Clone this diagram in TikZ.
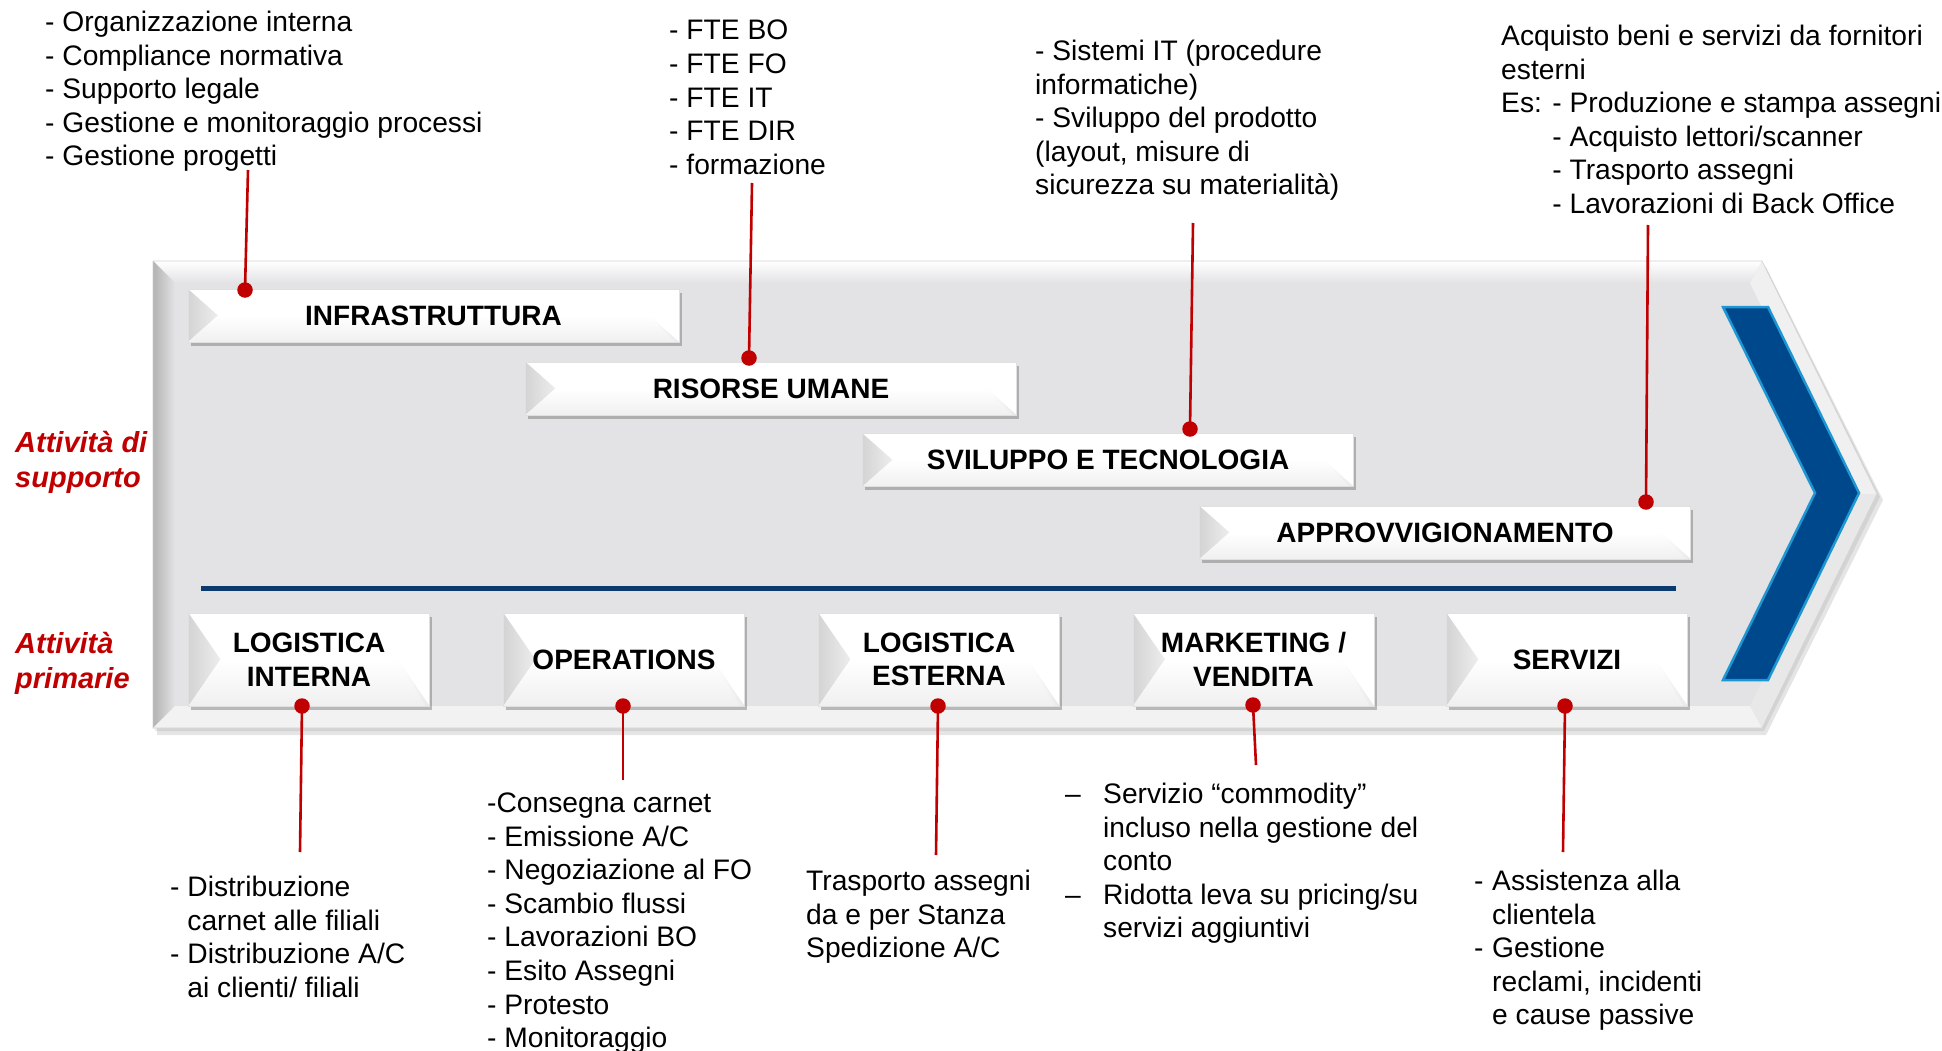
\documentclass[tikz,border=0pt]{standalone}
\usepackage{fontspec}
\setmainfont{Liberation Sans}
\usetikzlibrary{shadows,calc}
\definecolor{panel}{HTML}{E3E3E5}
\definecolor{rd}{HTML}{C00000}
\definecolor{navy}{HTML}{0B3A6F}
\definecolor{chev}{HTML}{00488C}
\definecolor{chevline}{HTML}{1E96D2}
\begin{document}
\begin{tikzpicture}[x=1pt,y=-1pt,
  bev/.style={path picture={
    \path (path picture bounding box.north west) coordinate (bnw)
          (path picture bounding box.south west) coordinate (bsw)
          (path picture bounding box.south east) coordinate (bse)
          (path picture bounding box.north east) coordinate (bne)
          ([xshift=#1]path picture bounding box.west) coordinate (bw)
          ([xshift=-#1]path picture bounding box.east) coordinate (be);
    \shade[left color=black!17, right color=black!7] (bnw) -- (bw) -- (bsw) -- cycle;
    \shade[top color=white, bottom color=black!6] (bsw) -- (bw) -- (be) -- (bse) -- cycle;
    \shade[left color=white, right color=black!9] (be) -- (bse) -- ([xshift=-4pt]bse) -- cycle;
  }},
  boxbase/.style={rectangle, inner sep=0, fill=white, draw=black!12, line width=0.6pt,
    drop shadow={shadow xshift=2.5pt, shadow yshift=-3.5pt, opacity=0.35, fill=black!70},
    font=\fontsize{28}{33.5}\selectfont\bfseries, align=center},
  supbox/.style={boxbase, minimum width=491pt, minimum height=53pt, bev=30pt},
  primbox/.style={boxbase, minimum width=241pt, minimum height=93pt, bev=32pt},
  reddot/.style={circle, fill=rd, inner sep=0, minimum size=15.5pt},
  redline/.style={draw=rd, line width=2.6pt},
  txt/.style={inner sep=0, anchor=base west, align=left, font=\fontsize{28.2}{33.6}\selectfont},
  lab/.style={inner sep=0, anchor=base west, align=left, text=rd, font=\fontsize{29}{35}\selectfont\bfseries\itshape}
]
\useasboundingbox (0,0) rectangle (1942,1051);

% ---- big beveled arrow panel ----
\fill[black, opacity=0.10] (157,267) -- (1766,267) -- (1883,500) -- (1766,735) -- (157,735) -- cycle;
\fill[black, opacity=0.08] (155,264) -- (1764,264) -- (1880,497) -- (1764,731) -- (155,731) -- cycle;
\fill[panel] (153,261) -- (1762,261) -- (1877,494) -- (1762,728) -- (153,728) -- cycle;
\shade[top color=white, bottom color=panel] (153,261) -- (1762,261) -- (1750,283) -- (175,283) -- cycle;
\shade[left color=black!30, right color=panel] (153,261) -- (175,283) -- (175,706) -- (153,728) -- cycle;
\fill[black!5] (153,728) -- (175,706) -- (1750,706) -- (1762,728) -- cycle;
\fill[black!6] (1762,261) -- (1877,494) -- (1853,494) -- (1750,283) -- cycle;
\fill[black!9] (1877,494) -- (1762,728) -- (1750,706) -- (1853,494) -- cycle;
\draw[black!18, line width=0.6pt] (153,261) -- (1762,261) -- (1877,494) -- (1762,728) -- (153,728) -- cycle;

% ---- separator line ----
\draw[navy, line width=5pt] (201,588) -- (1676,588);

% ---- blue chevron ----
\draw[chevline, line width=2.5pt, fill=chev, line join=miter]
  (1723,307) -- (1768,307) -- (1859,493) -- (1768,680) -- (1723,680) -- (1815,493) -- cycle;

% ---- support activity boxes ----
\node[supbox] (infra) at (433.5,315.5) {INFRASTRUTTURA};
\node[supbox] (risorse) at (771,388.5) {RISORSE UMANE};
\node[supbox] (svil) at (1108,460) {SVILUPPO E TECNOLOGIA};
\node[supbox] (appr) at (1445,532.5) {APPROVVIGIONAMENTO};

% ---- primary activity boxes ----
\node[primbox] (li) at (309,659.5) {LOGISTICA\\INTERNA};
\node[primbox] (op) at (624,659.5) {OPERATIONS};
\node[primbox] (le) at (939,659.5) {LOGISTICA\\ESTERNA};
\node[primbox] (mv) at (1253.5,659.5) {MARKETING /\\VENDITA};
\node[primbox] (se) at (1567,659.5) {SERVIZI};

% ---- side labels (anchor = baseline of last line) ----
\node[lab] (lsup) at (15,487) {Attività di\\supporto};
\node[lab] (lpri) at (15,688) {Attività\\primarie};

% ---- top texts (anchor = baseline of last line) ----
\node[txt] (t1) at (45,165.9) {- Organizzazione interna\\- Compliance normativa\\- Supporto legale\\- Gestione e monitoraggio processi\\- Gestione progetti};
\node[txt] (t2) at (669,174.4) {- FTE BO\\- FTE FO\\- FTE IT\\- FTE DIR\\- formazione};
\node[txt] (t3) at (1035,194.9) {- Sistemi IT (procedure\\informatiche)\\- Sviluppo del prodotto\\(layout, misure di\\sicurezza su materialità)};
\node[txt] (t4) at (1501,213.5) {Acquisto beni e servizi da fornitori\\esterni\\Es: - Produzione e stampa assegni\\\phantom{Es: }- Acquisto lettori/scanner\\\phantom{Es: }- Trasporto assegni\\\phantom{Es: }- Lavorazioni di Back Office};

% ---- bottom texts ----
\node[txt] (b1) at (170,997.3) {- Distribuzione\\\phantom{- }carnet alle filiali\\- Distribuzione A/C\\\phantom{- }ai clienti/ filiali};
\node[txt] (b2) at (487,1047.7) {-Consegna carnet\\- Emissione A/C\\- Negoziazione al FO\\- Scambio flussi\\- Lavorazioni BO\\- Esito Assegni\\- Protesto\\- Monitoraggio};
\node[txt] (b3) at (806,957.7) {Trasporto assegni\\da e per Stanza\\Spedizione A/C};
\node[txt] (b4) at (1065,937.9) {\makebox[38pt][l]{–}Servizio “commodity”\\\hspace*{38pt}incluso nella gestione del\\\hspace*{38pt}conto\\\makebox[38pt][l]{–}Ridotta leva su pricing/su\\\hspace*{38pt}servizi aggiuntivi};
\node[txt] (b5) at (1474,1024.9) {\makebox[18pt][l]{-}Assistenza alla\\\hspace*{18pt}clientela\\\makebox[18pt][l]{-}Gestione\\\hspace*{18pt}reclami, incidenti\\\hspace*{18pt}e cause passive};

% ---- connector end points ----
\coordinate (c1) at (248,170);
\coordinate (c2) at (752,183);
\coordinate (c3) at (1193,223);
\coordinate (c4) at (1648,225);
\coordinate (c5) at (300,852);
\coordinate (c6) at (623,780);
\coordinate (c7) at (936,855);
\coordinate (c8) at (1256,765);
\coordinate (c9) at (1563,852);

% ---- dots ----
\node[reddot] (d1) at (245,290) {};
\node[reddot] (d2) at (749,358) {};
\node[reddot] (d3) at (1190,429) {};
\node[reddot] (d4) at (1646,502) {};
\node[reddot] (d5) at (302,706) {};
\node[reddot] (d6) at (623,706) {};
\node[reddot] (d7) at (938,706) {};
\node[reddot] (d8) at (1253,705) {};
\node[reddot] (d9) at (1565,706) {};

% ---- connectors ----
\draw[redline] (c1) -- (d1.center);
\draw[redline] (c2) -- (d2.center);
\draw[redline] (c3) -- (d3.center);
\draw[redline] (c4) -- (d4.center);
\draw[redline] (d5.center) -- (c5);
\draw[redline] (d6.center) -- (c6);
\draw[redline] (d7.center) -- (c7);
\draw[redline] (d8.center) -- (c8);
\draw[redline] (d9.center) -- (c9);
\end{tikzpicture}
\end{document}
